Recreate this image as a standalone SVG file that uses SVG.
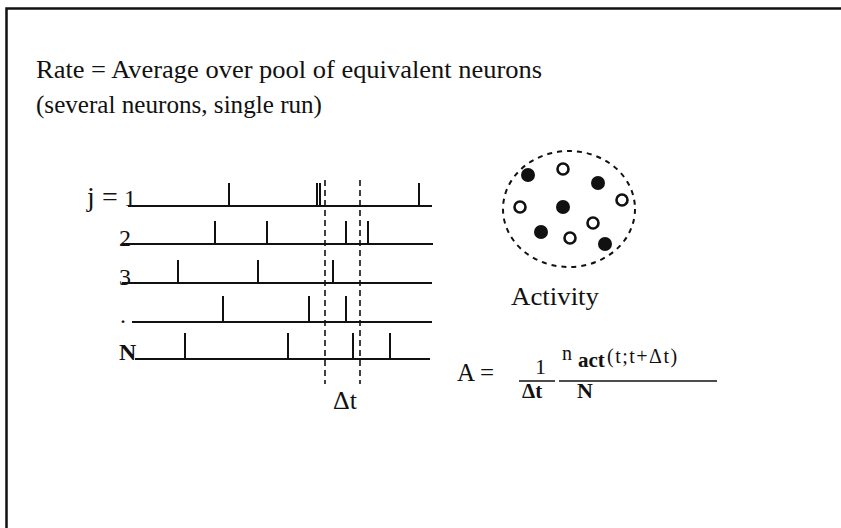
<svg xmlns="http://www.w3.org/2000/svg" width="841" height="528" viewBox="0 0 841 528">
<style>
.t{font-family:"Liberation Serif","Times New Roman",serif;fill:#111}
.base{stroke:#111;stroke-width:2;fill:none}
.spk{stroke:#111;stroke-width:2;fill:none}
.dash{stroke:#111;stroke-width:1.6;stroke-dasharray:6,4;fill:none}
.on{fill:#111}
.off{fill:#fff;stroke:#111;stroke-width:2.6}
</style>
<rect width="841" height="528" fill="#fff"/>
<path d="M6.5,540 V8.5 H850" fill="none" stroke="#111" stroke-width="2.5"/>
<g id="title">
<text class="t" x="36" y="78" font-size="26" textLength="506" lengthAdjust="spacingAndGlyphs">Rate = Average over pool of equivalent neurons</text>
<text class="t" x="36" y="113" font-size="26" textLength="286" lengthAdjust="spacingAndGlyphs">(several neurons, single run)</text>
</g>
<g id="trains">
<text class="t" x="87" y="206" font-size="28">j<tspan x="102">=</tspan></text>
<text class="t" x="124" y="206" font-size="24">1</text>
<text class="t" x="119" y="246" font-size="24">2</text>
<text class="t" x="119" y="285" font-size="24">3</text>
<text class="t" x="120" y="323" font-size="24">.</text>
<text class="t" x="119" y="360" font-size="24" font-weight="bold">N</text>
<path class="base" d="M128,206 H432 M122,244 H433 M122,283 H432 M132,322 H432 M135,359 H430"/>
<path class="spk" d="M229,206 V183 M317,206 V183 M320,206 V183 M419,206 V183
M215,244 V221 M267,244 V221 M346,244 V221 M368,244 V221
M178,283 V260 M258,283 V260 M333,283 V260
M223,322 V296 M309,322 V296 M346,322 V296
M185,359 V333 M288,359 V333 M353,359 V333 M390,359 V333"/>
<path class="dash" d="M325,180 V384 M360,180 V384"/>
<text class="t" x="333" y="409" font-size="26">Δt</text>
</g>
<g id="pool">
<ellipse cx="569" cy="209" rx="66" ry="58" fill="none" stroke="#111" stroke-width="2" stroke-dasharray="5,5"/>
<circle class="on" cx="528" cy="175" r="7"/>
<circle class="on" cx="598" cy="183" r="7"/>
<circle class="on" cx="563" cy="207" r="7"/>
<circle class="on" cx="541" cy="232" r="7"/>
<circle class="on" cx="605" cy="244" r="7"/>
<circle class="off" cx="563" cy="169" r="5.5"/>
<circle class="off" cx="520" cy="207" r="5.5"/>
<circle class="off" cx="622" cy="200" r="5.5"/>
<circle class="off" cx="593" cy="223" r="5.5"/>
<circle class="off" cx="570" cy="238" r="5.5"/>
<text class="t" x="511" y="305" font-size="26" textLength="88" lengthAdjust="spacingAndGlyphs">Activity</text>
</g>
<g id="formula">
<text class="t" x="457" y="381" font-size="25">A =</text>
<text class="t" x="535" y="374" font-size="22">1</text>
<line x1="519" y1="381" x2="555" y2="381" stroke="#111" stroke-width="1.5"/>
<text class="t" x="522" y="398" font-size="21" font-weight="bold">Δt</text>
<text class="t" x="562" y="360" font-size="20">n</text>
<text class="t" x="578" y="367" font-size="21" font-weight="bold">act</text>
<text class="t" x="607" y="363" font-size="20" letter-spacing="1.5">(t;t+Δt)</text>
<line x1="559" y1="381" x2="717" y2="381" stroke="#111" stroke-width="1.5"/>
<text class="t" x="577" y="398" font-size="22" font-weight="bold">N</text>
</g>
</svg>
